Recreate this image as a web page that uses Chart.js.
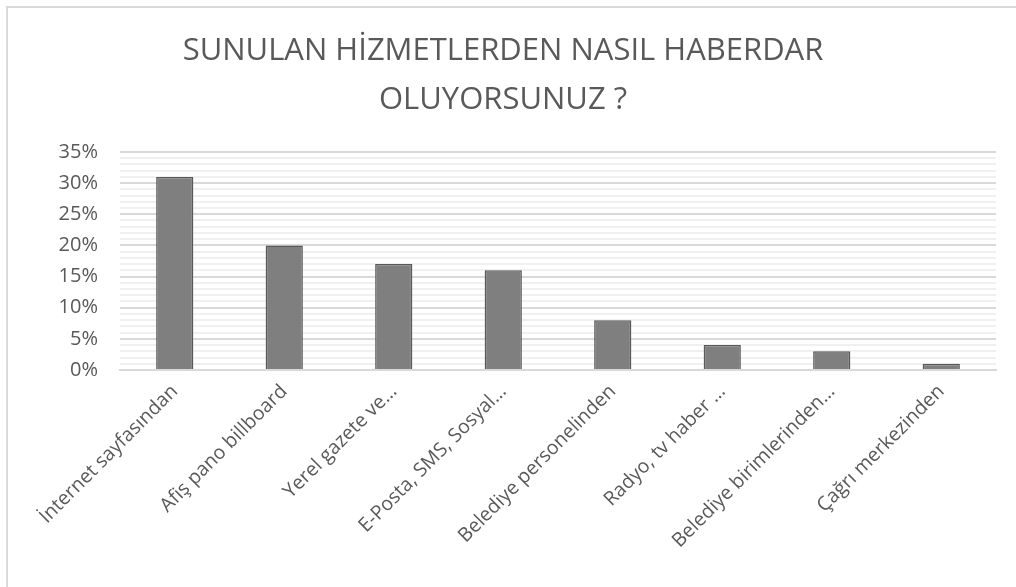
<!DOCTYPE html>
<html>
<head>
<meta charset="utf-8">
<script src="https://cdn.jsdelivr.net/npm/chart.js@4/dist/chart.umd.min.js"></script>
<style>
  html, body { margin: 0; padding: 0; background: #ffffff; }
  #frame { position: absolute; left: 6px; top: 6px; width: 1010px; height: 581px;
           border-left: 2px solid #d9d9d9; border-top: 2px solid #d9d9d9; box-sizing: border-box; }
  #wrap { position: absolute; left: 0; top: 0; width: 1016px; height: 587px; }
</style>
</head>
<body>
<div id="frame"></div>
<div id="wrap"><canvas id="c" width="1016" height="587"></canvas></div>
<script>
const titleLines = ["SUNULAN HİZMETLERDEN NASIL HABERDAR", "OLUYORSUNUZ ?"];
const categories = [
  "İnternet sayfasından",
  "Afiş pano billboard",
  "Yerel gazete ve…",
  "E-Posta, SMS, Sosyal…",
  "Belediye personelinden",
  "Radyo, tv haber …",
  "Belediye birimlerinden…",
  "Çağrı merkezinden"
];
const values = [31, 20, 17, 16, 8, 4, 3, 1];
const yMin = 0;
const yMax = 35;
const yMajorStep = 5;
const yMinorStep = 1;

const FONT = "'Open Sans', 'DejaVu Sans', sans-serif";
const TEXT = "#595959";

new Chart(document.getElementById('c'), {
  type: 'bar',
  data: {
    labels: categories,
    datasets: [{
      data: values,
      backgroundColor: '#7f7f7f',
      borderColor: '#595959',
      borderWidth: 1.5,
      barPercentage: 0.34,
      categoryPercentage: 1.0
    }]
  },
  options: {
    responsive: false,
    animation: false,
    devicePixelRatio: 1,
    layout: { padding: { left: 10, right: 20, top: 27, bottom: 8 } },
    plugins: {
      legend: { display: false },
      tooltip: { enabled: false },
      title: {
        display: true,
        text: titleLines,
        color: TEXT,
        font: { family: FONT, size: 31, weight: 'normal', lineHeight: 1.58 },
        padding: { top: 0, bottom: 27 }
      }
    },
    scales: {
      x: {
        afterFit: (scale) => { scale.height = 209; },
        grid: { display: false, drawTicks: false },
        border: { display: true, color: '#d9d9d9', width: 2 },
        ticks: {
          color: TEXT,
          font: { family: FONT, size: 19.5 },
          minRotation: 45,
          maxRotation: 45,
          autoSkip: false,
          padding: 10
        }
      },
      y: {
        min: yMin,
        max: yMax,
        afterFit: (scale) => { scale.width = 110; },
        grid: {
          drawTicks: false,
          color: (ctx) => (ctx.tick && ctx.tick.value % yMajorStep === 0) ? '#d9d9d9' : '#f0f0f0',
          lineWidth: 2
        },
        border: { display: false },
        ticks: {
          stepSize: yMinorStep,
          autoSkip: false,
          color: TEXT,
          font: { family: FONT, size: 20 },
          padding: 22,
          callback: (v) => (v % yMajorStep === 0) ? v + '%' : ''
        }
      }
    }
  }
});
</script>
</body>
</html>
